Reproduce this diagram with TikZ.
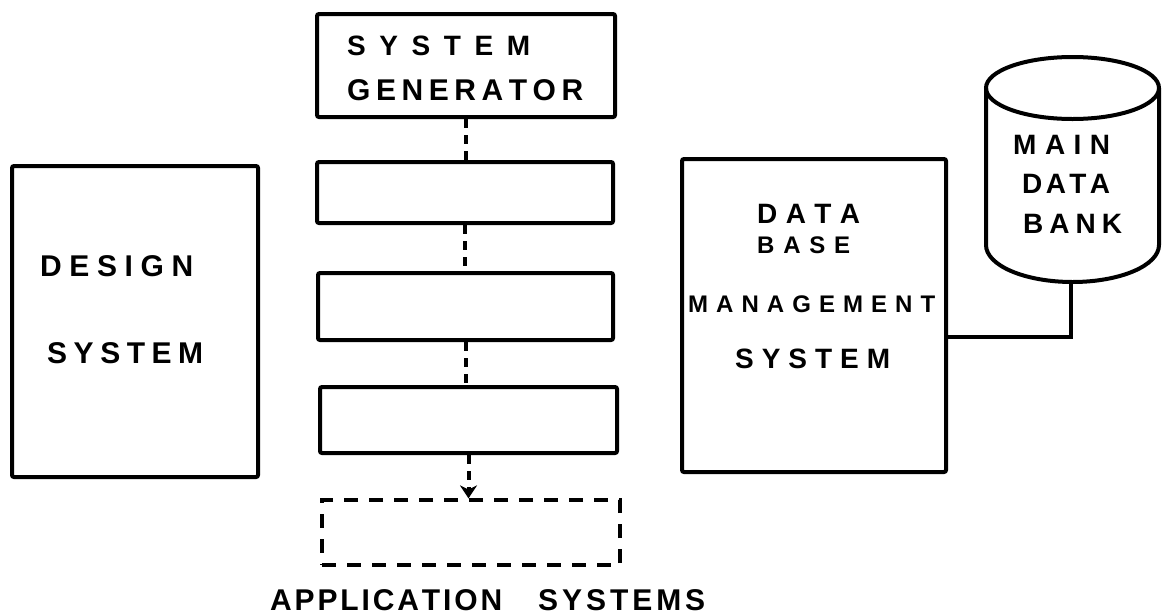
\documentclass[tikz,border=0pt]{standalone}
\usepackage{fontspec}
\setmainfont{Liberation Sans}
\usetikzlibrary{arrows.meta}
\makeatletter
\newcommand\sptext[2]{\makebox[#1][s]{\spt@first#2\relax}}
\def\spt@first#1{#1\spt@next}
\def\spt@next#1{\ifx#1\relax\else\hskip 0pt plus 1fill minus 1fill\relax #1\expandafter\spt@next\fi}
\makeatother
\tikzset{
  box/.style={draw, rectangle, line width=4pt, inner sep=0pt, rounded corners=2pt},
  dashbox/.style={draw, rectangle, line width=3.2pt, inner sep=0pt, dash pattern=on 14pt off 11pt},
  conn/.style={line width=4pt, dash pattern=on 9pt off 7pt},
  link/.style={line width=4pt},
  lbl/.style={anchor=base west, inner sep=0pt, font=\bfseries\fontsize{28}{30}\selectfont},
  lblsmall/.style={lbl, font=\bfseries\fontsize{24}{26}\selectfont},
  lblbig/.style={lbl, font=\bfseries\fontsize{30}{32}\selectfont},
}
\begin{document}
\begin{tikzpicture}[x=1pt,y=-1pt]
\useasboundingbox (0,0) rectangle (1163,614);

% boxes
\node[box, minimum width=246pt, minimum height=311pt] (design) at (135,321.5) {};
\node[box, minimum width=298pt, minimum height=103pt] (sg) at (466,65.5) {};
\node[box, minimum width=296pt, minimum height=61pt] (b2) at (465,192.5) {};
\node[box, minimum width=295pt, minimum height=67pt] (b3) at (465.5,306.5) {};
\node[box, minimum width=297pt, minimum height=66pt] (b4) at (468.5,420) {};
\node[dashbox, minimum width=298pt, minimum height=65pt] (app) at (471,532.5) {};
\node[box, minimum width=264pt, minimum height=313pt] (dbms) at (814,315.5) {};

% cylinder
\draw[link] (986,88) -- (986,245) arc[start angle=180, end angle=360, x radius=86.5pt, y radius=37pt] -- (1159,88);
\draw[link] (1072.5,88) ellipse [x radius=86.5pt, y radius=31pt];
\coordinate (cylb) at (1071,282);
\coordinate (cylk) at (1071,337);

% texts
\node[lbl] (t-sg1) at (347,55) {\sptext{183pt}{SYSTEM}};
\node[lblbig] (t-sg2) at (347,100) {\sptext{236pt}{GENERATOR}};
\node[lblbig] (t-ds1) at (40,276) {\sptext{153pt}{DESIGN}};
\node[lblbig] (t-ds2) at (47,363) {\sptext{156pt}{SYSTEM}};
\node[lbl] (t-db1) at (757,223) {\sptext{103pt}{DATA}};
\node[lblsmall] (t-db2) at (757,253) {\sptext{93pt}{BASE}};
\node[lblsmall] (t-db3) at (688,312) {\sptext{247pt}{MANAGEMENT}};
\node[lbl] (t-db4) at (735,368) {\sptext{155pt}{SYSTEM}};
\node[lbl] (t-cy1) at (1013,154) {\sptext{97pt}{MAIN}};
\node[lbl] (t-cy2) at (1022,193) {\sptext{88pt}{DATA}};
\node[lbl] (t-cy3) at (1023,233) {\sptext{99pt}{BANK}};
\node[lblbig] (t-ap1) at (270,610) {\sptext{232pt}{APPLICATION}};
\node[lblbig] (t-ap2) at (538,610) {\sptext{167pt}{SYSTEMS}};

% connectors
\draw[conn] (sg.south) -- (sg.south |- b2.north);
\draw[conn] (b2.south) -- (b2.south |- b3.north);
\draw[conn] (b3.south) -- (b3.south |- b4.north);
\draw[conn, -{Stealth[length=13pt,width=17pt]}] (b4.south) -- (b4.south |- app.north);
\draw[link] (dbms.east |- cylk) -- (cylk) -- (cylb);
\end{tikzpicture}
\end{document}
